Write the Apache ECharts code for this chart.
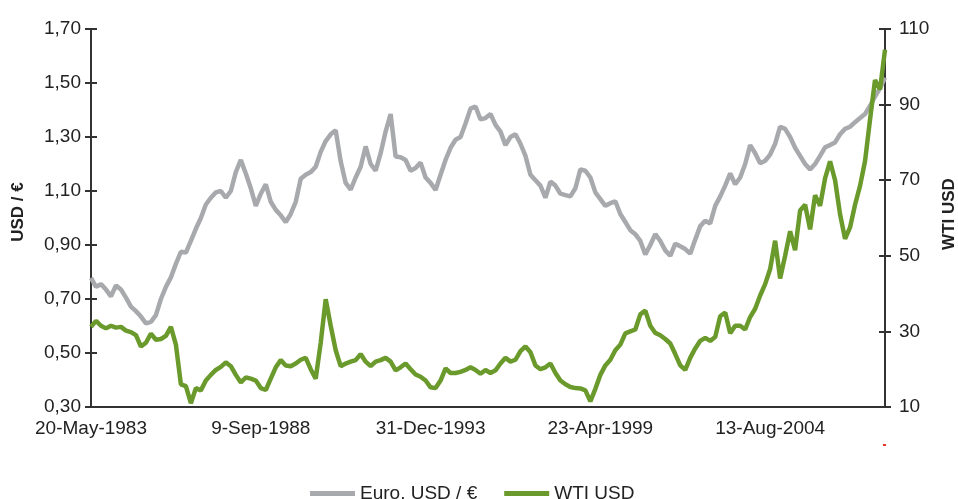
<!DOCTYPE html>
<html>
<head>
<meta charset="utf-8">
<script src="https://cdn.jsdelivr.net/npm/echarts@6/dist/echarts.min.js"></script>
<style>
  html, body { margin: 0; padding: 0; background: #fff; }
  #chart { width: 958px; height: 499px; }
</style>
</head>
<body>
<div id="chart"></div>
<script>
// x axis: one point every 1939/34 days, a label every 34 points
var tickLabels = ['20-May-1983', '9-Sep-1988', '31-Dec-1993', '23-Apr-1999', '13-Aug-2004'];
var pointsPerLabel = 34;
var daysPerLabel = 1939;

// Euro, USD / € (left axis)
var euro = [
  0.778,0.745,0.755,0.735,0.710,0.750,0.735,0.705,0.672,0.655,
  0.635,0.610,0.615,0.640,0.700,0.745,0.780,0.830,0.875,0.872,
  0.915,0.960,1.000,1.050,1.075,1.095,1.100,1.075,1.100,1.170,
  1.215,1.165,1.110,1.045,1.090,1.125,1.060,1.030,1.010,0.985,
  1.015,1.060,1.145,1.160,1.170,1.190,1.245,1.285,1.310,1.325,
  1.210,1.130,1.105,1.150,1.190,1.265,1.200,1.175,1.240,1.320,
  1.385,1.228,1.225,1.215,1.175,1.185,1.205,1.150,1.130,1.104,
  1.160,1.215,1.260,1.290,1.300,1.350,1.405,1.413,1.365,1.370,
  1.385,1.345,1.320,1.270,1.300,1.310,1.275,1.230,1.160,1.140,
  1.120,1.075,1.135,1.120,1.090,1.085,1.080,1.110,1.180,1.175,
  1.150,1.095,1.070,1.045,1.055,1.062,1.015,0.985,0.955,0.940,
  0.915,0.865,0.900,0.940,0.915,0.880,0.860,0.905,0.895,0.885,
  0.868,0.920,0.970,0.990,0.980,1.045,1.080,1.120,1.165,1.125,
  1.150,1.200,1.270,1.240,1.203,1.212,1.235,1.275,1.338,1.330,
  1.300,1.260,1.230,1.200,1.180,1.200,1.230,1.262,1.270,1.280,
  1.310,1.330,1.338,1.355,1.370,1.385,1.415,1.450,1.480,1.520
];

// WTI USD (right axis)
var wti = [
  31.2,32.8,31.5,30.8,31.5,31.0,31.2,30.2,29.8,29.0,
  26.0,27.0,29.4,27.8,28.0,28.8,31.2,26.5,16.0,15.5,
  11.0,15.0,14.4,17.0,18.5,19.8,20.6,21.8,20.8,18.5,
  16.5,17.8,17.5,17.0,15.0,14.5,17.5,20.5,22.4,21.0,
  20.8,21.5,22.5,23.0,20.0,17.5,27.0,38.5,31.5,25.0,
  20.8,21.5,22.0,22.4,24.0,22.0,20.8,22.0,22.4,23.0,
  22.0,19.7,20.5,21.5,20.0,18.6,18.0,17.0,15.2,15.0,
  17.0,20.2,19.0,19.0,19.3,19.8,20.5,19.8,18.8,19.8,
  19.0,19.7,21.5,23.0,22.0,22.5,24.8,26.0,24.5,21.0,
  20.0,20.5,21.5,19.0,17.0,16.0,15.3,15.0,14.9,14.4,
  11.5,14.8,18.5,21.0,22.5,25.0,26.5,29.5,30.0,30.5,
  34.5,35.5,31.5,29.6,29.0,28.0,26.8,24.0,21.0,19.8,
  23.0,25.5,27.5,28.3,27.5,28.5,34.0,35.0,29.5,31.5,
  31.5,30.5,33.8,36.0,39.5,42.5,46.5,54.0,44.0,50.0,
  56.5,51.5,62.0,63.5,57.0,66.0,63.2,70.5,75.0,70.0,
  61.0,54.5,57.5,63.5,68.5,75.0,86.0,96.5,94.0,104.5
];

var months = ['Jan','Feb','Mar','Apr','May','Jun','Jul','Aug','Sep','Oct','Nov','Dec'];
var start = Date.UTC(1983, 4, 20);
var categories = [];
for (var i = 0; i < euro.length; i++) {
  if (i % pointsPerLabel === 0 && tickLabels[i / pointsPerLabel]) {
    categories.push(tickLabels[i / pointsPerLabel]);
  } else {
    var d = new Date(start + Math.round(i * daysPerLabel / pointsPerLabel) * 86400000);
    categories.push(d.getUTCDate() + '-' + months[d.getUTCMonth()] + '-' + d.getUTCFullYear());
  }
}

var font = "'Liberation Sans', Arial, sans-serif";
var axisColor = '#333';
var gray = '#a7a9ac';
var green = '#6b9a2c';

var myChart = echarts.init(document.getElementById('chart'));
myChart.setOption({
  animation: false,
  textStyle: { fontFamily: font },
  grid: { left: 91, right: 73, top: 29, bottom: 92 },
  legend: {
    left: 305,
    top: 479,
    itemWidth: 45,
    itemHeight: 5,
    itemGap: 27,
    icon: 'rect',
    textStyle: { fontFamily: font, fontSize: 19, color: '#222' },
    data: ['Euro. USD / €', 'WTI USD']
  },
  xAxis: {
    type: 'category',
    boundaryGap: false,
    data: categories,
    axisLine: { lineStyle: { color: axisColor, width: 2 } },
    axisTick: { show: false },
    axisLabel: {
      interval: pointsPerLabel - 1,
      margin: 12,
      fontSize: 19,
      color: '#222',
      fontFamily: font
    },
    splitLine: { show: false }
  },
  yAxis: [
    {
      type: 'value', position: 'left', min: 0.3, max: 1.7, interval: 0.2,
      axisLine: { show: true, lineStyle: { color: axisColor, width: 2 } },
      axisTick: { show: true, length: 6, lineStyle: { color: axisColor, width: 2 } },
      axisLabel: {
        margin: 10, fontSize: 19, color: '#222', fontFamily: font,
        formatter: function (v) { return v.toFixed(2).replace('.', ','); }
      },
      splitLine: { show: false }
    },
    {
      type: 'value', position: 'right', min: 10, max: 110, interval: 20,
      axisLine: { show: true, lineStyle: { color: axisColor, width: 2 } },
      axisTick: { show: true, length: 6, lineStyle: { color: axisColor, width: 2 } },
      axisLabel: { margin: 14, fontSize: 19, color: '#222', fontFamily: font },
      splitLine: { show: false }
    },
    {
      type: 'value', position: 'left', min: 0.3, max: 1.7, interval: 0.2,
      axisLine: { show: false },
      axisTick: { show: true, inside: true, length: 6, lineStyle: { color: axisColor, width: 2 } },
      axisLabel: { show: false },
      splitLine: { show: false }
    },
    {
      type: 'value', position: 'right', min: 10, max: 110, interval: 20,
      axisLine: { show: false },
      axisTick: { show: true, inside: true, length: 6, lineStyle: { color: axisColor, width: 2 } },
      axisLabel: { show: false },
      splitLine: { show: false }
    }
  ],
  graphic: [
    {
      type: 'text', x: 18, y: 212, rotation: Math.PI / 2,
      style: { text: 'USD / €', font: 'bold 17px ' + font, fill: '#222', align: 'center', verticalAlign: 'middle' }
    },
    {
      type: 'text', x: 949, y: 214, rotation: Math.PI / 2,
      style: { text: 'WTI USD', font: 'bold 17px ' + font, fill: '#222', align: 'center', verticalAlign: 'middle' }
    },
    {
      type: 'rect', shape: { x: 883, y: 444, width: 3, height: 2 },
      style: { fill: '#e8322e' }
    }
  ],
  series: [
    {
      name: 'Euro. USD / €',
      type: 'line',
      yAxisIndex: 0,
      data: euro,
      showSymbol: false,
      color: gray,
      lineStyle: { color: gray, width: 4.5 }
    },
    {
      name: 'WTI USD',
      type: 'line',
      yAxisIndex: 1,
      data: wti,
      showSymbol: false,
      color: green,
      lineStyle: { color: green, width: 4.5 }
    }
  ]
});
</script>
</body>
</html>
